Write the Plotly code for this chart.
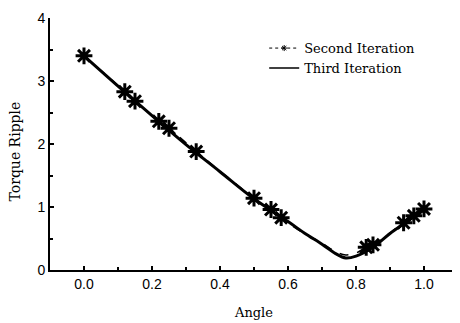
import plotly.graph_objects as go

# Second iteration: curve and marker positions
second_x = [0.0, 0.12, 0.15, 0.22, 0.25, 0.33, 0.50, 0.55, 0.58, 0.65, 0.70, 0.74, 0.77, 0.80, 0.83, 0.85, 0.94, 0.97, 1.00]
second_y = [3.40, 2.83, 2.68, 2.36, 2.25, 1.88, 1.14, 0.96, 0.83, 0.57, 0.43, 0.29, 0.24, 0.27, 0.36, 0.40, 0.75, 0.86, 0.97]
second_marker_x = [0.0, 0.12, 0.15, 0.22, 0.25, 0.33, 0.50, 0.55, 0.58, 0.83, 0.85, 0.94, 0.97, 1.00]
second_marker_y = [3.40, 2.83, 2.68, 2.36, 2.25, 1.88, 1.14, 0.96, 0.83, 0.36, 0.40, 0.75, 0.86, 0.97]

# Third iteration
third_x = [0.0, 0.1, 0.2, 0.3, 0.4, 0.5, 0.6, 0.65, 0.70, 0.74, 0.77, 0.80, 0.85, 0.90, 0.95, 1.00]
third_y = [3.40, 2.92, 2.45, 1.99, 1.56, 1.13, 0.77, 0.58, 0.41, 0.26, 0.19, 0.22, 0.36, 0.58, 0.77, 0.97]

x_ticks = [0.0, 0.2, 0.4, 0.6, 0.8, 1.0]
x_tick_labels = ["0.0", "0.2", "0.4", "0.6", "0.8", "1.0"]
y_ticks = [0, 1, 2, 3, 4]

fig = go.Figure()
fig.add_trace(go.Scatter(x=third_x, y=third_y, mode="lines", line=dict(color="black", width=3, shape="spline"),
                         name="Third Iteration", showlegend=False))
fig.add_trace(go.Scatter(x=second_x, y=second_y, mode="lines",
                         line=dict(color="black", width=1.5, dash="dash", shape="spline"), showlegend=False))
fig.add_trace(go.Scatter(x=second_marker_x, y=second_marker_y, mode="markers",
                         marker=dict(symbol="asterisk-open", size=14, color="black", line=dict(color="black", width=3)),
                         showlegend=False))
# legend entries
fig.add_trace(go.Scatter(x=[None], y=[None], mode="lines+markers", name="Second Iteration",
                         line=dict(color="black", width=1, dash="dot"),
                         marker=dict(symbol="asterisk-open", size=5, color="black", line=dict(color="black", width=1))))
fig.add_trace(go.Scatter(x=[None], y=[None], mode="lines", name="Third Iteration",
                         line=dict(color="black", width=1.5)))

serif = "DejaVu Serif, serif"
sans = "Liberation Sans, Arial, sans-serif"

fig.update_layout(
    width=452, height=315,
    margin=dict(l=42, r=2, t=6, b=53),
    paper_bgcolor="white", plot_bgcolor="white",
    legend=dict(x=0.525, y=0.94, xanchor="left", yanchor="top", bgcolor="rgba(0,0,0,0)",
                font=dict(family=serif, size=13, color="black"), tracegroupgap=0, itemwidth=30),
    annotations=[dict(text="Torque Ripple", xref="paper", yref="paper", x=-0.086, y=0.47,
                      xanchor="center", yanchor="middle", textangle=-90, showarrow=False,
                      font=dict(family=serif, size=14, color="black"))],
)
fig.update_xaxes(range=[-0.1, 1.1], tickvals=x_ticks, ticktext=x_tick_labels,
                 showgrid=False, zeroline=False, showline=True, linecolor="black", linewidth=2,
                 ticks="inside", ticklen=4, tickwidth=2, tickcolor="black",
                 minor=dict(dtick=0.1, ticks="inside", ticklen=3, tickwidth=1.5, tickcolor="black"),
                 tickfont=dict(family=sans, size=14, color="black"), ticklabeloverflow="allow",
                 title=dict(text="Angle", font=dict(family=serif, size=13, color="black"), standoff=17))
fig.update_yaxes(range=[0, 4], tickvals=y_ticks,
                 showgrid=False, zeroline=False, showline=True, linecolor="black", linewidth=2,
                 ticks="inside", ticklen=4, tickwidth=2, tickcolor="black",
                 minor=dict(dtick=0.5, ticks="inside", ticklen=3, tickwidth=1.5, tickcolor="black"),
                 tickfont=dict(family=sans, size=14, color="black"), ticklabeloverflow="allow")

fig.write_html("out.html")
